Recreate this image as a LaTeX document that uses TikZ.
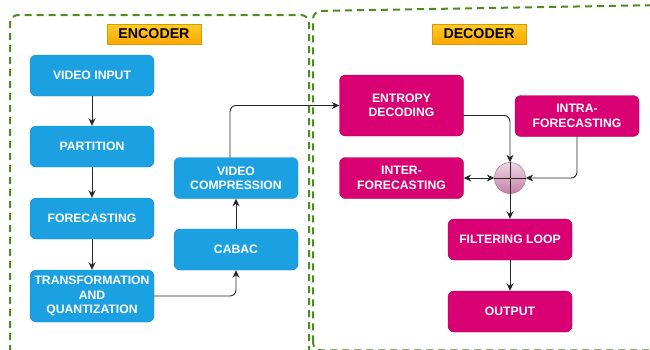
\documentclass[tikz,border=0pt]{standalone}
\usepackage{fontspec}
\setmainfont{Liberation Sans}
\usetikzlibrary{arrows.meta,calc}
\definecolor{EncClr}{HTML}{1BA1E2}
\definecolor{EncBorder}{HTML}{1A8BD0}
\definecolor{DecClr}{HTML}{D80073}
\definecolor{DecBorder}{HTML}{A50040}
\definecolor{FrameClr}{RGB}{77,140,30}
\definecolor{TitleTop}{HTML}{FFCD28}
\definecolor{TitleBot}{HTML}{FFA500}
\definecolor{TitleBorder}{HTML}{D79B00}
\definecolor{SumTop}{HTML}{EBD7E4}
\definecolor{SumBot}{HTML}{C77FA8}
\definecolor{SumBorder}{HTML}{996185}

\begin{document}
\begin{tikzpicture}[x=1pt,y=-1pt,
  box/.style={rounded corners=6pt,minimum width=124pt,minimum height=41pt,inner sep=1pt,
    align=center,text=white,font=\bfseries\fontsize{12.2}{14.4}\selectfont},
  enc/.style={box,fill=EncClr,draw=EncBorder},
  dec/.style={box,fill=DecClr,draw=DecBorder},
  title/.style={minimum width=94pt,minimum height=20pt,inner sep=0pt,top color=TitleTop,
    bottom color=TitleBot,draw=TitleBorder,font=\bfseries\fontsize{14.2}{16}\selectfont},
  sumnode/.style={circle,minimum size=31pt,inner sep=0pt,top color=SumTop,bottom color=SumBot,draw=SumBorder},
  flow/.style={draw=black!85,line width=0.9pt,-{Stealth[length=7.5pt,width=7pt]}},
  flowboth/.style={flow,{Stealth[length=7.5pt,width=7pt]}-{Stealth[length=7.5pt,width=7pt]}},
  frame/.style={draw=FrameClr,line width=2pt,dash pattern=on 7pt off 5pt,rounded corners=8pt}]
\useasboundingbox (0,0) rectangle (650,349);

\draw[frame] (10,352) -- (10,15) -- (309,15) -- (309,352);
\draw[frame] (313,350.3) -- (313,11) -- (664,5) -- (664,350.3) -- cycle;

\node[title] (enctitle) at (154,34) {ENCODER};
\node[title] (dectitle) at (479,34) {DECODER};

\node[enc] (vin) at (92,75.5) {VIDEO INPUT};
\node[enc] (part) at (92,146.5) {PARTITION};
\node[enc] (fore) at (92,218.5) {FORECASTING};
\node[enc,minimum height=52pt] (tq) at (92,296) {TRANSFORMATION\\AND\\QUANTIZATION};
\node[enc] (cabac) at (236,249.5) {CABAC};
\node[enc] (vc) at (236,178) {VIDEO\\COMPRESSION};

\node[dec,minimum height=61pt] (ed) at (401.5,105.5) {ENTROPY\\DECODING};
\node[dec] (intra) at (577,116) {INTRA-\\FORECASTING};
\node[dec] (inter) at (401.5,178) {INTER-\\FORECASTING};
\node[sumnode] (sum) at (510,178) {};
\node[dec] (fl) at (510,239.5) {FILTERING LOOP};
\node[dec] (out) at (510,311.5) {OUTPUT};

\draw[black!85,line width=0.9pt] (sum.north) -- (sum.south) (sum.west) -- (sum.east);

\draw[flow] (vin) -- (part);
\draw[flow] (part) -- (fore);
\draw[flow] (fore) -- (tq);
\draw[flow,rounded corners=6pt] (tq.east) -| (cabac.south);
\draw[flow] (cabac) -- (vc);
\draw[flow,rounded corners=6pt] ([xshift=-6pt]vc.north) |- (ed.west);
\draw[flow,rounded corners=6pt] ([yshift=-10pt]ed.east) -| (sum.north);
\draw[flow,rounded corners=6pt] (intra.south) |- (sum.east);
\draw[flowboth] (sum.west) -- (inter.east);
\draw[flow] (sum.south) -- (fl.north);
\draw[flow] (fl) -- (out);

\end{tikzpicture}
\end{document}
